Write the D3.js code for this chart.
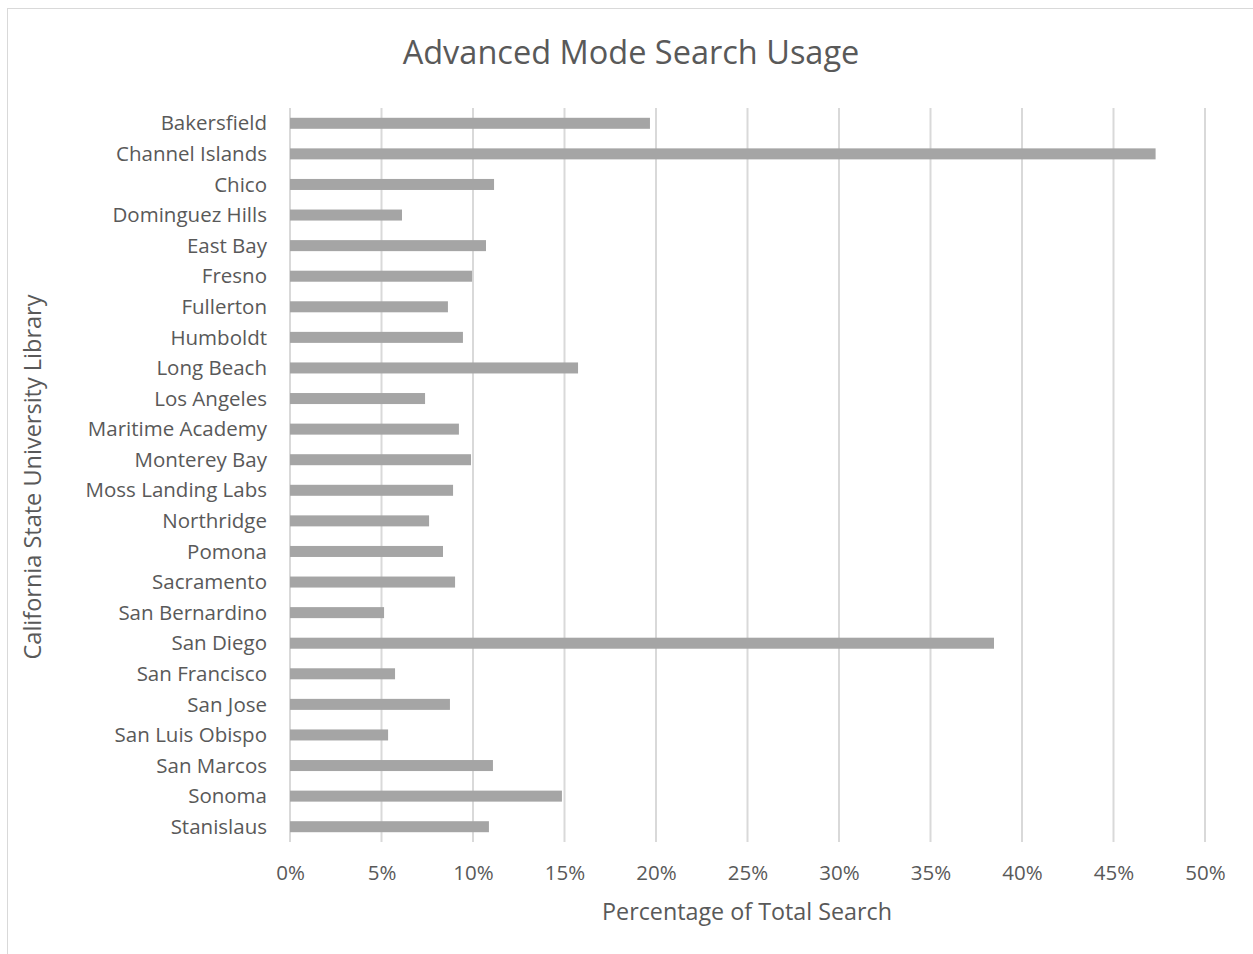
<!DOCTYPE html>
<html><head><meta charset="utf-8">
<script src="https://cdn.jsdelivr.net/npm/d3@7"></script>
<style>body{margin:0;background:#fff;} text{font-family:"Open Sans","Noto Sans",sans-serif;fill:#595959;}</style>
</head><body>
<svg id="c" width="1253" height="954"></svg>
<script>
const categories = ["Bakersfield","Channel Islands","Chico","Dominguez Hills","East Bay","Fresno","Fullerton","Humboldt","Long Beach","Los Angeles","Maritime Academy","Monterey Bay","Moss Landing Labs","Northridge","Pomona","Sacramento","San Bernardino","San Diego","San Francisco","San Jose","San Luis Obispo","San Marcos","Sonoma","Stanislaus"];
const values = [0.1967,0.473,0.1115,0.0612,0.1071,0.0995,0.0863,0.0945,0.1574,0.0738,0.0923,0.0989,0.0891,0.076,0.0836,0.0902,0.0514,0.3847,0.0574,0.0874,0.0536,0.1109,0.1486,0.1087];
const xTicks = [0,0.05,0.10,0.15,0.20,0.25,0.30,0.35,0.40,0.45,0.50];
const title = "Advanced Mode Search Usage";
const xTitle = "Percentage of Total Search";
const yTitle = "California State University Library";

const svg = d3.select("#c");
svg.append("rect").attr("x",7.5).attr("y",8.5).attr("width",1260).attr("height",960)
  .attr("fill","#fff").attr("stroke","#d9d9d9").attr("stroke-width",1);

const x = d3.scaleLinear().domain([0,0.5]).range([290,1205]);
const y = d3.scaleBand().domain(categories).range([108,842]).paddingInner(0.64).paddingOuter(0.32);

svg.append("g").selectAll("line").data(xTicks).join("line")
  .attr("x1",d=>x(d)).attr("x2",d=>x(d)).attr("y1",108).attr("y2",842)
  .attr("stroke","#d9d9d9").attr("stroke-width",2);

svg.append("g").selectAll("rect").data(categories).join("rect")
  .attr("x",x(0)).attr("y",d=>y(d)).attr("height",y.bandwidth())
  .attr("width",(d,i)=>x(values[i])-x(0)).attr("fill","#a5a5a5");

const xa = d3.axisBottom(x).tickValues(xTicks).tickFormat(d3.format(".0%")).tickSize(0).tickPadding(0);
const gx = svg.append("g").attr("transform","translate(0,880)").call(xa);
gx.select(".domain").remove();
gx.selectAll("text").attr("font-size",20.5).attr("dy",0).attr("fill","#595959").attr("font-family","Open Sans");

const ya = d3.axisLeft(y).tickSize(0).tickPadding(0);
const gy = svg.append("g").attr("transform","translate(267,0)").call(ya);
gy.select(".domain").remove();
gy.selectAll("text").attr("font-size",20.5).attr("dy","0.35em").attr("fill","#595959").attr("font-family","Open Sans");

svg.append("text").attr("x",631).attr("y",64).attr("text-anchor","middle").attr("font-size",32.5).text(title);
svg.append("text").attr("x",747).attr("y",920).attr("text-anchor","middle").attr("font-size",23.3).text(xTitle);
svg.append("text").attr("transform","translate(41,477) rotate(-90)").attr("text-anchor","middle").attr("font-size",23.5).text(yTitle);
</script>
</body></html>
